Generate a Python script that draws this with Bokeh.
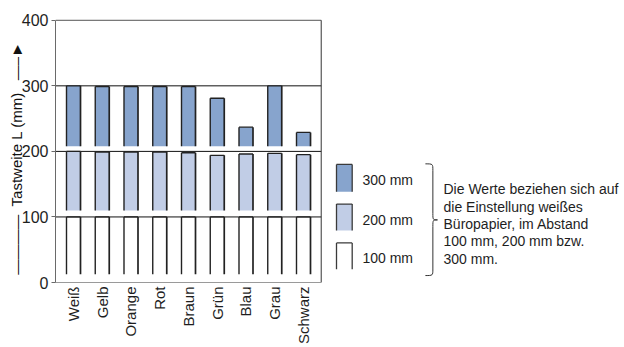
import numpy as np
from math import pi
from bokeh.plotting import figure
from bokeh.models import Range1d, FixedTicker, ColumnDataSource
from bokeh.core.properties import value
from bokeh.embed import file_html
from bokeh.resources import INLINE

# ---- data ----
categories = ["Weiß", "Gelb", "Orange", "Rot", "Braun", "Grün", "Blau", "Grau", "Schwarz"]
top_100 = [100, 100, 100, 100, 100, 100, 100, 100, 100]
top_200 = [200, 199, 199, 199, 198, 194, 196, 197, 195]
top_300 = [300, 299, 299, 299, 299, 281, 237, 300, 229]
base_100 = 12.5
base_200 = 110
base_300 = 208
series_labels = ["300 mm", "200 mm", "100 mm"]
y_ticks = [0, 100, 200, 300, 400]
y_title = "Tastweite L (mm)"
note_lines = ["Die Werte beziehen sich auf", "die Einstellung weißes",
              "Büropapier, im Abstand", "100 mm, 200 mm bzw.", "300 mm."]

FONT = "Liberation Sans"
TXT = "#1e1e1e"
EDGE = "#222222"
C300 = "#87A4CD"
C200 = "#C1CDE6"
C100 = "#FFFFFF"

n = len(categories)
xs = np.arange(n)
bw = 0.487
box_l, box_r = -0.626, n - 1 + 0.616

W, H = 624, 347
left_border, bottom_border = 55, 62
fw, fh = W - left_border, H - bottom_border
px_x = 28.75
px_y = 0.6625

p = figure(width=W, height=H, output_backend="svg", toolbar_location=None,
           x_range=Range1d(box_l, box_l + fw / px_x), y_range=Range1d(0, fh / px_y),
           min_border_left=left_border, min_border_right=0,
           min_border_top=0, min_border_bottom=bottom_border)
p.outline_line_color = None
p.grid.visible = False
p.background_fill_color = "white"
p.border_fill_color = "white"

# y axis
yax = p.yaxis[0]
yax.ticker = FixedTicker(ticks=y_ticks)
yax.bounds = (0, 400)
yax.axis_line_color = "#6a6a6a"
yax.major_tick_out = 4
yax.major_tick_in = 0
yax.major_tick_line_color = "#6a6a6a"
yax.minor_tick_line_color = None
yax.major_label_standoff = 3
yax.major_label_text_font = FONT
yax.major_label_text_font_size = "16px"
yax.major_label_text_color = TXT
nb = "\u00a0"
yax.axis_label = "————" + nb * 2 + y_title + nb * 3 + "—\u2013\u25ba" + nb * 8
yax.axis_label_standoff = -6
yax.axis_label_text_font = FONT
yax.axis_label_text_font_size = "15px"
yax.axis_label_text_font_style = "normal"
yax.axis_label_text_color = "#111111"

# x axis (categories)
xax = p.xaxis[0]
xax.ticker = FixedTicker(ticks=list(xs))
xax.major_label_overrides = {int(i): c for i, c in zip(xs, categories)}
xax.major_label_orientation = pi / 2
xax.bounds = (box_l, box_r)
xax.axis_line_color = "#9a9a9a"
xax.major_tick_out = 0
xax.major_tick_in = 0
xax.minor_tick_line_color = None
xax.major_label_standoff = 4
xax.major_label_text_font = FONT
xax.major_label_text_font_size = "15px"
xax.major_label_text_color = TXT

# box and gridlines
p.segment(x0=box_l, x1=box_r, y0=[100, 200, 300], y1=[100, 200, 300], line_color="#111111", line_width=1)
p.segment(x0=box_l, x1=box_r, y0=400, y1=400, line_color="#555555", line_width=1)
p.segment(x0=box_r, x1=box_r, y0=0, y1=400, line_color="#333333", line_width=1)

def bars(tops, base, color):
    tops = np.array(tops, dtype=float)
    src = ColumnDataSource(dict(l=xs - bw / 2, r=xs + bw / 2, t=tops, b=np.full(n, base)))
    p.quad(left="l", right="r", top="t", bottom="b", source=src, fill_color=color, line_color=None)
    p.segment(x0="l", x1="l", y0="b", y1="t", source=src, line_color=EDGE, line_width=1.4)
    p.segment(x0="r", x1="r", y0="b", y1="t", source=src, line_color=EDGE, line_width=1.7)
    p.segment(x0="l", x1="r", y0="t", y1="t", source=src, line_color=EDGE, line_width=1.4)

bars(top_100, base_100, C100)
bars(top_200, base_200, C200)
bars(top_300, base_300, C300)

# legend
lx0, lx1 = 9.148, 9.694
leg_top = [180.1, 119.7, 60.4]
leg_bot = [138.4, 79.5, 20.1]
leg_fill = [C300, C200, C100]
for t, b, c in zip(leg_top, leg_bot, leg_fill):
    p.quad(left=lx0, right=lx1, top=t, bottom=b, fill_color=c, line_color=None)
    p.segment(x0=[lx0, lx1, lx0], x1=[lx0, lx1, lx1], y0=[b, b, t], y1=[t, t, t],
              line_color="#3a3a3a", line_width=1.3)
p.text(x=10.05, y=[155.9, 95.5, 37.7], text=series_labels, text_baseline="middle",
       text_font=value(FONT), text_font_size="14px", text_color=TXT)

# brace
x0b, xmb, xpb = 12.24, 12.50, 12.66
ytop, ymid, ybot = 181.0, 95.5, 10.6
c = 10
p.bezier(x0=[x0b, xmb, x0b, xmb], y0=[ytop, ymid + c, ybot, ymid - c],
         x1=[xmb, xpb, xmb, xpb], y1=[ytop - c, ymid, ybot + c, ymid],
         cx0=[xmb, xmb, xmb, xmb], cy0=[ytop, ymid, ybot, ymid],
         cx1=[xmb, xmb, xmb, xmb], cy1=[ytop, ymid, ybot, ymid],
         line_color="#333333", line_width=1)
p.segment(x0=[xmb, xmb], x1=[xmb, xmb], y0=[ytop - c, ymid - c], y1=[ymid + c, ybot + c],
          line_color="#333333", line_width=1)

# note
p.text(x=12.87, y=[141.9, 115.5, 89.1, 62.6, 36.2], text=note_lines, text_baseline="middle",
       text_font=value(FONT), text_font_size="14px", text_color=TXT)

open("out.html", "w").write(file_html(p, INLINE))
